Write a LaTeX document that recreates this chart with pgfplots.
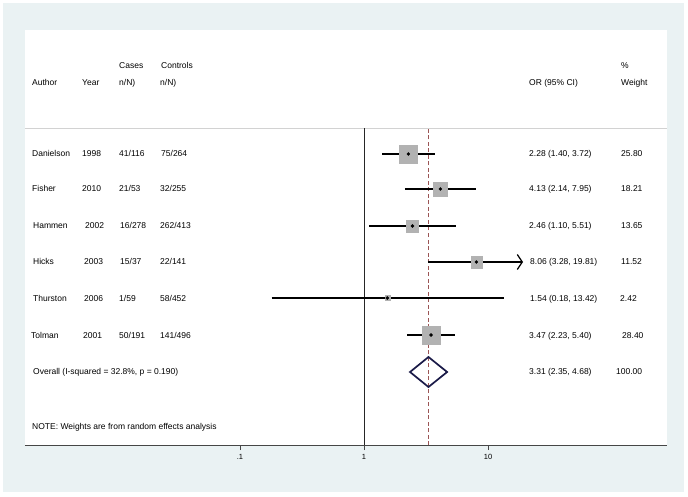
\documentclass[border=0pt]{standalone}
\usepackage{pgfplots}
\pgfplotsset{compat=1.18}
\usepackage{fontspec}
\setmainfont{Liberation Sans}
\usetikzlibrary{arrows.meta}
\definecolor{bgblue}{RGB}{234,242,243}
\definecolor{boxgray}{RGB}{178,178,178}
\definecolor{dashred}{RGB}{155,85,85}
\definecolor{dnavy}{RGB}{26,26,72}
\definecolor{axgray}{RGB}{70,70,70}
\definecolor{sepgray}{RGB}{210,210,210}
\newcommand\fs{\fontsize{8.5}{10}\selectfont}
\newcommand\T[3]{\node[anchor=base west,inner sep=0pt,font=\fs] at (#1pt,{(493-#2)*1pt}) {#3};}
\begin{document}
\begin{tikzpicture}
\fill[white] (0,0) rectangle (688pt,496pt);
\fill[bgblue] (3pt,4pt) rectangle (684pt,493pt);
\begin{axis}[at={(25pt,51pt)},anchor=south west,scale only axis,width=642pt,height=415pt,
 xmode=log, xmin=0.001845, xmax=277.6, ymin=0, ymax=415,
 axis y line=none, axis x line*=bottom, x axis line style={-, draw=axgray, line width=0.9pt},
 axis background/.style={fill=white},
 xtick={0.1,1,10}, xticklabels={.1,1,10}, tick align=outside, major tick length=5pt,
 xtick style={draw=axgray, line width=0.8pt}, minor x tick style={draw=none},
 xticklabel style={font=\fontsize{7.5}{9}\selectfont, yshift=-1pt},
 clip=false]
% separator and reference lines
\addplot[draw=sepgray, line width=0.8pt] coordinates {(0.001845,317) (277.6,317)};
\addplot[draw=black!85, line width=0.9pt] coordinates {(1,0) (1,317)};
\addplot[draw=dashred, line width=0.8pt, dash pattern=on 4pt off 2.5pt] coordinates {(3.31,0) (3.31,317)};
% weight boxes
\addplot[boxgray, only marks, mark=square*, mark size=8.8pt, mark options={line width=0.4pt}] coordinates {(2.28,291)};
\addplot[boxgray, only marks, mark=square*, mark size=7.0pt, mark options={line width=0.4pt}] coordinates {(4.13,256)};
\addplot[boxgray, only marks, mark=square*, mark size=6.2pt, mark options={line width=0.4pt}] coordinates {(2.46,219)};
\addplot[boxgray, only marks, mark=square*, mark size=5.7pt, mark options={line width=0.4pt}] coordinates {(8.06,183)};
\addplot[boxgray, only marks, mark=square*, mark size=2.5pt, mark options={line width=0.4pt}] coordinates {(1.54,147)};
\addplot[boxgray, only marks, mark=square*, mark size=9.1pt, mark options={line width=0.4pt}] coordinates {(3.47,110)};
% confidence intervals
\addplot[black, line width=1.2pt] coordinates {(1.40,291) (3.72,291)};
\addplot[black, line width=1.2pt] coordinates {(2.14,256) (7.95,256)};
\addplot[black, line width=1.2pt] coordinates {(1.10,219) (5.51,219)};
\addplot[black, line width=1.2pt, -{Straight Barb[length=5pt,width=15pt,line width=1.2pt]}] coordinates {(3.28,183) (19.15,183)};
\addplot[black, line width=1.2pt] coordinates {(0.18,147) (13.42,147)};
\addplot[black, line width=1.2pt] coordinates {(2.23,110) (5.40,110)};
% point estimates
\addplot[only marks, mark=*, mark size=1.5pt, black] coordinates {(2.28,291) (4.13,256) (2.46,219) (8.06,183) (1.54,147) (3.47,110)};
% overall diamond
\addplot[draw=dnavy, line width=1.7pt, line join=miter] coordinates {(2.35,73) (3.31,88) (4.68,73) (3.31,58) (2.35,73)} -- cycle;
\end{axis}
% headers
\T{119}{66}{Cases}
\T{161}{66}{Controls}
\T{621}{66}{\%}
\T{32}{83}{Author}
\T{82}{83}{Year}
\T{119}{83}{n/N)}
\T{160}{83}{n/N)}
\T{529}{83}{OR (95\% CI)}
\T{621}{83}{Weight}
% rows
\T{32}{154}{Danielson}\T{82}{154}{1998}\T{119}{154}{41/116}\T{161}{154}{75/264}\T{529}{154}{2.28 (1.40, 3.72)}\T{621}{154}{25.80}
\T{32}{189}{Fisher}\T{82}{189}{2010}\T{119}{189}{21/53}\T{160}{189}{32/255}\T{529}{189}{4.13 (2.14, 7.95)}\T{621}{189}{18.21}
\T{33}{226}{Hammen}\T{85}{226}{2002}\T{120}{226}{16/278}\T{160}{226}{262/413}\T{529}{226}{2.46 (1.10, 5.51)}\T{621}{226}{13.65}
\T{33}{262}{Hicks}\T{84}{262}{2003}\T{120}{262}{15/37}\T{160}{262}{22/141}\T{530}{262}{8.06 (3.28, 19.81)}\T{621}{262}{11.52}
\T{33}{298}{Thurston}\T{84}{298}{2006}\T{119}{298}{1/59}\T{160}{298}{58/452}\T{530}{298}{1.54 (0.18, 13.42)}\T{620}{298}{2.42}
\T{31}{335}{Tolman}\T{83}{335}{2001}\T{119}{335}{50/191}\T{160}{335}{141/496}\T{529}{335}{3.47 (2.23, 5.40)}\T{622}{335}{28.40}
\T{33}{371}{Overall (I-squared = 32.8\%, p = 0.190)}\T{529}{371}{3.31 (2.35, 4.68)}\T{616}{371}{100.00}
\T{32}{426}{NOTE: Weights are from random effects analysis}
\end{tikzpicture}
\end{document}
